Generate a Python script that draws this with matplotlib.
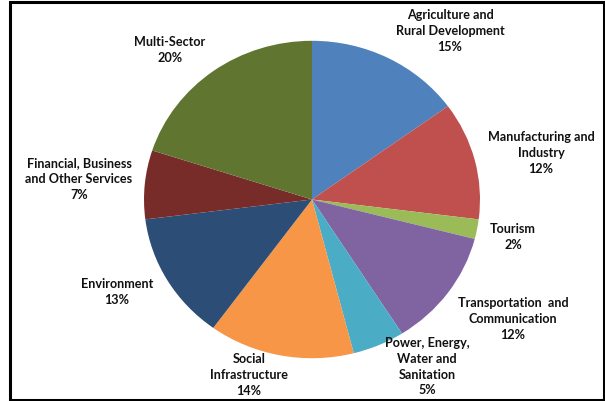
import matplotlib
matplotlib.use("Agg")
import matplotlib.pyplot as plt
from matplotlib.patches import Rectangle

categories = [
    "Agriculture and\nRural Development",
    "Manufacturing and\nIndustry",
    "Tourism",
    "Transportation  and\nCommunication",
    "Power, Energy,\nWater and\nSanitation",
    "Social\nInfrastructure",
    "Environment",
    "Financial, Business\nand Other Services",
    "Multi-Sector",
]
shares = [15, 12, 2, 12, 5, 14, 13, 7, 20]
colors = ["#4F81BD", "#C0504D", "#9BBB59", "#8064A2", "#4BACC6",
          "#F79646", "#2C4D75", "#772C2A", "#5F7530"]

# label centre positions in pixels (x from left, y of first line from top)
label_pos = [(450, 15), (541, 137), (513, 229), (513, 303), (427, 343),
             (249, 359), (117, 284), (79, 163), (170, 42)]

W, H = 605, 402
fig = plt.figure(figsize=(W / 100, H / 100), dpi=100)
ax = fig.add_axes([0, 0, 1, 1])

cx, cy = 312, 200.5   # pixel centre (y from top)
rx, ry = 168, 158.7

ax.pie(shares, colors=colors, startangle=90, counterclock=False,
       wedgeprops=dict(linewidth=0))
ax.set_aspect("auto")
ax.set_xlim(-cx / rx, (W - cx) / rx)
ax.set_ylim(-(H - cy) / ry, cy / ry)
ax.axis("off")

font = dict(family=["Lato", "DejaVu Sans"], weight="bold", size=9.1,
            color="#111111")
for cat, val, (px, py) in zip(categories, shares, label_pos):
    fig.text(px / W, 1 - (py - 6) / H, f"{cat}\n{val}%", ha="center",
             va="top", linespacing=1.38, **font)

fig.patches.append(Rectangle((9.5 / W, 1.5 / H), (603.5 - 9.5) / W,
                             (399.5 - 1.5) / H, transform=fig.transFigure,
                             fill=False, edgecolor="black", linewidth=2.2))

fig.savefig("out.png", dpi=100)
